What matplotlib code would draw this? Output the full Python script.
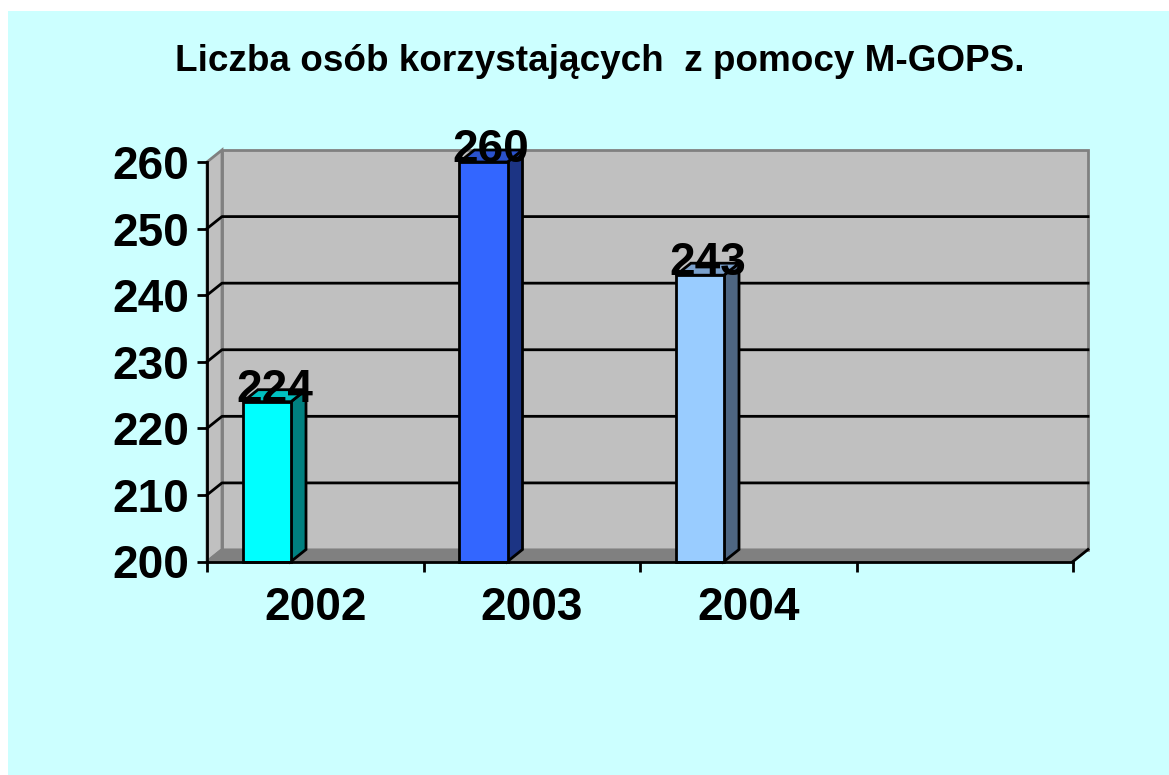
import matplotlib
matplotlib.use("Agg")
import matplotlib.pyplot as plt
import matplotlib.patches as mpatches
import numpy as np

# ---- data ----
title = "Liczba osób korzystających  z pomocy M-GOPS."
categories = ["2002", "2003", "2004", ""]
values = [224, 260, 243]
front_colors = ["#00FFFF", "#3366FF", "#99CCFF"]
side_colors = ["#008080", "#1C3484", "#4E6682"]
top_colors = ["#00C0C0", "#2A52CC", "#7AA0CC"]
y_ticks = [200, 210, 220, 230, 240, 250, 260]

W, H = 1169, 775
fig = plt.figure(figsize=(W / 100, H / 100), dpi=100, facecolor="white")
plt.rcParams['font.family'] = ['Liberation Sans', 'DejaVu Sans']

# cyan chart area
fig.patches.append(mpatches.Rectangle((8 / W, 0), 1 - 8 / W, 1 - 11 / H,
                                      transform=fig.transFigure,
                                      facecolor="#CCFFFF", edgecolor="none", zorder=-10))

x0p, x1p = 207, 1073
y0p, y1p = 561.5, 162
ax = fig.add_axes([x0p / W, 1 - y0p / H, (x1p - x0p) / W, (y0p - y1p) / H])
ax.set_zorder(5)
ax.set_facecolor("none")
ymin, ymax = 200, 260
ncat = len(categories)
ax.set_xlim(-0.5, ncat - 0.5)
ax.set_ylim(ymin, ymax)

dx = 15 / (x1p - x0p) * ncat
dy = 12 / (y0p - y1p) * (ymax - ymin)
xl, xr = -0.5, ncat - 0.5

kw = dict(clip_on=False)
# back wall
ax.add_patch(mpatches.Polygon([(xl + dx, ymin + dy), (xr + dx, ymin + dy),
                               (xr + dx, ymax + dy), (xl + dx, ymax + dy)],
                              closed=True, facecolor="#C0C0C0", edgecolor="#808080",
                              lw=2, zorder=1, **kw))
# side wall
ax.add_patch(mpatches.Polygon([(xl, ymin), (xl + dx, ymin + dy),
                               (xl + dx, ymax + dy), (xl, ymax)],
                              closed=True, facecolor="#C0C0C0", edgecolor="#808080",
                              lw=2, zorder=1, **kw))
# floor
ax.add_patch(mpatches.Polygon([(xl, ymin), (xr, ymin), (xr + dx, ymin + dy), (xl + dx, ymin + dy)],
                              closed=True, facecolor="#808080", edgecolor="#808080",
                              lw=1.5, zorder=1.5, **kw))
ax.plot([xr, xr + dx], [ymin, ymin + dy], color="black", lw=2, zorder=2, **kw)

# gridlines
for v in y_ticks[1:-1]:
    ax.plot([xl, xl + dx, xr + dx], [v, v + dy, v + dy], color="black", lw=2,
            zorder=2, **kw)

# bars
pos = np.arange(len(values)) - 0.223
bw = 0.222
heights = np.array(values) - ymin
bars = ax.bar(pos, heights, width=bw, bottom=ymin, color=front_colors,
              edgecolor="black", linewidth=2, zorder=5, clip_on=False)
for b, sc, tc, v in zip(bars, side_colors, top_colors, values):
    xa = b.get_x()
    xb = xa + b.get_width()
    ax.add_patch(mpatches.Polygon([(xb, ymin), (xb + dx, ymin + dy), (xb + dx, v + dy), (xb, v)],
                                  closed=True, facecolor=sc, edgecolor="black", lw=2,
                                  zorder=4, **kw))
    ax.add_patch(mpatches.Polygon([(xa, v), (xb, v), (xb + dx, v + dy), (xa + dx, v + dy)],
                                  closed=True, facecolor=tc, edgecolor="black", lw=2,
                                  zorder=4, **kw))
    ax.text((xa + xb) / 2 + dx / 2, v, str(v), ha="center", va="baseline",
            fontsize=33, fontweight="bold", color="black", zorder=10)

# axes
for s in ["top", "right"]:
    ax.spines[s].set_visible(False)
for s in ["left", "bottom"]:
    ax.spines[s].set_linewidth(2)
    ax.spines[s].set_color("black")
    ax.spines[s].set_zorder(6)

ax.set_yticks(y_ticks)
ax.set_yticklabels([str(t) for t in y_ticks], fontsize=33, fontweight="bold")
ax.tick_params(axis="y", length=7.2, width=2, pad=5.5, direction="out")

ax.set_xticks(np.arange(-0.5, ncat, 1.0))
ax.set_xticklabels([])
ax.tick_params(axis="x", which="major", length=7.2, width=2, direction="out")
ax.set_xticks(np.arange(ncat), minor=True)
ax.set_xticklabels(categories, minor=True, fontsize=33, fontweight="bold")
ax.tick_params(axis="x", which="minor", length=0, pad=17.5)

fig.text(600 / W, 1 - 71 / H, title, ha="center", va="baseline",
         fontsize=26.6, fontweight="bold", color="black")

fig.savefig("out.png", dpi=100, facecolor=fig.get_facecolor())
